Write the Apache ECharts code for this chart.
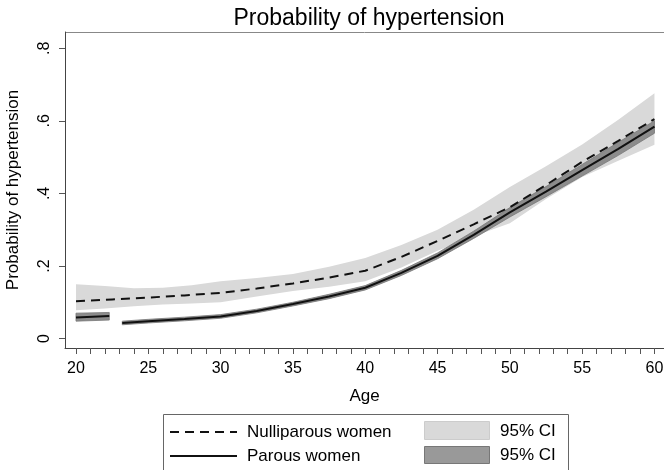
<!DOCTYPE html>
<html>
<head>
<meta charset="utf-8">
<script src="https://cdn.jsdelivr.net/npm/echarts@6/dist/echarts.min.js"></script>
<style>
  html, body { margin: 0; padding: 0; background: #fff; }
  #chart { width: 664px; height: 470px; }
</style>
</head>
<body>
<div id="chart"></div>
<script>
  // Nulliparous women: predicted probability (dashed) and 95% CI
  const nullAge = [20, 22.5, 25, 27.5, 30, 32.5, 35, 37.5, 40, 42.5, 45, 47.5, 50, 52.5, 55, 57.5, 60]
  const nullP = [0.103, 0.108, 0.113, 0.119, 0.126, 0.138, 0.152, 0.168, 0.187, 0.225, 0.269, 0.315, 0.362, 0.423, 0.487, 0.545, 0.605]
  const nullCiAge = [20, 22, 24, 26, 28, 30, 32.5, 35, 37.5, 40, 42.5, 45, 47.5, 50, 52.5, 55, 57.5, 60]
  const nullCiLo = [0.078, 0.083, 0.089, 0.094, 0.097, 0.100, 0.116, 0.131, 0.143, 0.158, 0.196, 0.242, 0.282, 0.318, 0.385, 0.445, 0.490, 0.534]
  const nullCiHi = [0.150, 0.145, 0.139, 0.140, 0.147, 0.158, 0.167, 0.178, 0.198, 0.222, 0.258, 0.300, 0.355, 0.418, 0.475, 0.535, 0.603, 0.676]

  // Parous women: two segments (gap between 22.3 and 23.2)
  const parAge1 = [20, 22.3]
  const parP1 = [0.058, 0.062]
  const parLo1 = [0.048, 0.051]
  const parHi1 = [0.070, 0.072]
  const parAge2 = [23.2, 25, 27.5, 30, 32.5, 35, 37.5, 40, 42.5, 45, 47.5, 50, 52.5, 55, 57.5, 60]
  const parP2 = [0.043, 0.048, 0.054, 0.061, 0.076, 0.095, 0.116, 0.140, 0.181, 0.228, 0.286, 0.348, 0.405, 0.464, 0.523, 0.584]
  const parLo2 = [0.038, 0.043, 0.049, 0.056, 0.071, 0.090, 0.110, 0.134, 0.174, 0.220, 0.276, 0.335, 0.391, 0.448, 0.505, 0.566]
  const parHi2 = [0.048, 0.053, 0.059, 0.066, 0.081, 0.100, 0.122, 0.146, 0.188, 0.236, 0.296, 0.361, 0.419, 0.480, 0.541, 0.600]

  const xTickValues = [20, 21, 22, 23, 24, 25, 26, 27, 28, 29, 30, 31, 32, 33, 34, 35, 36, 37, 38, 39, 40,
    41, 42, 43, 44, 45, 46, 47, 48, 49, 50, 51, 52, 53, 54, 55, 56, 57, 58, 59, 60]
  const xLabelValues = [20, 25, 30, 35, 40, 45, 50, 55, 60]
  const yTickValues = [0, 0.2, 0.4, 0.6, 0.8]

  const font = 'Liberation Sans, Arial, Helvetica, sans-serif'

  function zip(a, b) {
    return a.map((v, i) => [v, b[i]])
  }

  function band(ages, lo, hi, fill, stroke) {
    return {
      type: 'custom',
      silent: true,
      clip: true,
      z: 1,
      data: [[ages[0], lo[0]]],
      renderItem: function (params, api) {
        const pts = []
        for (let i = 0; i < ages.length; i++) pts.push(api.coord([ages[i], hi[i]]))
        for (let i = ages.length - 1; i >= 0; i--) pts.push(api.coord([ages[i], lo[i]]))
        return {
          type: 'polygon',
          shape: { points: pts },
          style: { fill: fill, stroke: stroke, lineWidth: stroke ? 0.8 : 0 }
        }
      }
    }
  }

  function line(ages, vals, dash) {
    return {
      type: 'line',
      data: zip(ages, vals),
      showSymbol: false,
      smooth: false,
      silent: true,
      z: 3,
      lineStyle: { color: '#111', width: 2, type: dash ? [9, 6] : 'solid' }
    }
  }

  const chart = echarts.init(document.getElementById('chart'))
  const option = {
    animation: false,
    title: {
      text: 'Probability of hypertension',
      left: 364,
      textAlign: 'center',
      top: 2,
      textStyle: { fontFamily: font, fontSize: 23, fontWeight: 'normal', color: '#000' }
    },
    grid: { left: 65, top: 32, right: 0, bottom: 122, outerBoundsMode: 'none', containLabel: false },
    xAxis: {
      type: 'value',
      min: 19.24,
      max: 60.66,
      name: 'Age',
      nameLocation: 'middle',
      nameGap: 40,
      nameTextStyle: { fontFamily: font, fontSize: 17, color: '#000' },
      axisLine: { show: true, onZero: false, lineStyle: { color: '#444', width: 1 } },
      axisTick: { show: true, customValues: xTickValues, length: 6, lineStyle: { color: '#555' } },
      axisLabel: { customValues: xLabelValues, margin: 13, fontFamily: font, fontSize: 16, color: '#000' },
      splitLine: { show: false }
    },
    yAxis: {
      type: 'value',
      min: -0.026,
      max: 0.845,
      name: 'Probability of hypertension',
      nameLocation: 'middle',
      nameRotate: 90,
      nameGap: 43,
      nameTextStyle: { fontFamily: font, fontSize: 17, color: '#000' },
      axisLine: { show: true, onZero: false, lineStyle: { color: '#444', width: 1 } },
      axisTick: { show: true, customValues: yTickValues, length: 6, lineStyle: { color: '#555' } },
      axisLabel: {
        customValues: yTickValues,
        rotate: 90,
        margin: 12,
        fontFamily: font,
        fontSize: 16,
        color: '#000',
        formatter: v => (v === 0 ? '0' : String(v).replace(/^0/, ''))
      },
      splitLine: { show: false }
    },
    graphic: [
      { type: 'line', shape: { x1: 65, y1: 32.5, x2: 664, y2: 32.5 }, style: { stroke: '#888', lineWidth: 1 } },
      // legend box
      { type: 'rect', shape: { x: 163.5, y: 414.5, width: 405, height: 70 }, style: { fill: '#fff', stroke: '#666', lineWidth: 1 } },
      { type: 'line', shape: { x1: 170, y1: 432, x2: 237, y2: 432 }, style: { stroke: '#111', lineWidth: 2, lineDash: [9, 6] } },
      { type: 'text', x: 247, y: 432, style: { text: 'Nulliparous women', font: '17px ' + font, fill: '#000', verticalAlign: 'middle' } },
      { type: 'rect', shape: { x: 424.5, y: 421.5, width: 65, height: 18 }, style: { fill: '#d9d9d9', stroke: '#cccccc', lineWidth: 1 } },
      { type: 'text', x: 500, y: 431, style: { text: '95% CI', font: '17px ' + font, fill: '#000', verticalAlign: 'middle' } },
      { type: 'line', shape: { x1: 170, y1: 456, x2: 237, y2: 456 }, style: { stroke: '#111', lineWidth: 2 } },
      { type: 'text', x: 247, y: 456, style: { text: 'Parous women', font: '17px ' + font, fill: '#000', verticalAlign: 'middle' } },
      { type: 'rect', shape: { x: 424.5, y: 446.5, width: 65, height: 17 }, style: { fill: '#999999', stroke: '#777777', lineWidth: 1 } },
      { type: 'text', x: 500, y: 455, style: { text: '95% CI', font: '17px ' + font, fill: '#000', verticalAlign: 'middle' } }
    ],
    series: [
      band(nullCiAge, nullCiLo, nullCiHi, '#d9d9d9', null),
      band(parAge1, parLo1, parHi1, '#8c8c8c', '#777'),
      band(parAge2, parLo2, parHi2, '#8c8c8c', '#777'),
      line(nullAge, nullP, true),
      line(parAge1, parP1, false),
      line(parAge2, parP2, false)
    ]
  }
  chart.setOption(option)
</script>
</body>
</html>
